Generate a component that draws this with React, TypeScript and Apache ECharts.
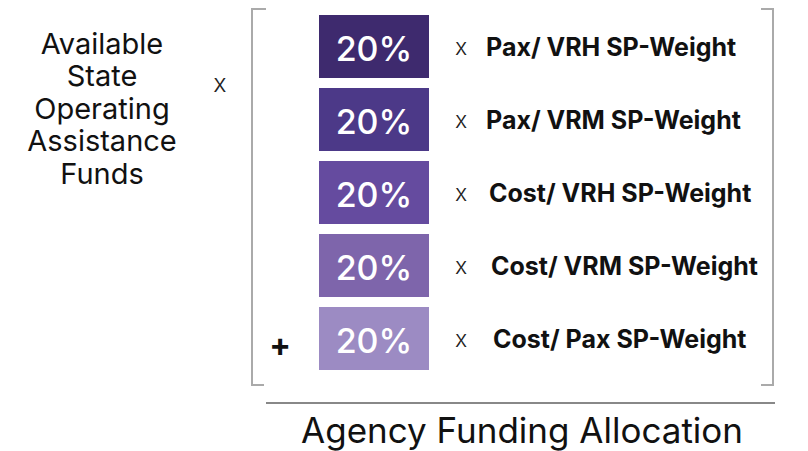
import React, { useEffect, useRef } from "react";
import * as echarts from "echarts";

const weights = [20, 20, 20, 20, 20];
const factors = [
  "Pax/ VRH SP-Weight",
  "Pax/ VRM SP-Weight",
  "Cost/ VRH SP-Weight",
  "Cost/ VRM SP-Weight",
  "Cost/ Pax SP-Weight",
];
const boxColors = ["#3e2a6e", "#4c3988", "#654b9f", "#7e65ab", "#9c8bc3"];
const fundLines = ["Available", "State", "Operating", "Assistance", "Funds"];
const title = "Agency Funding Allocation";
const FONT = "Inter, 'Liberation Sans', Arial, sans-serif";

export default function App() {
  const ref = useRef<HTMLDivElement>(null);
  useEffect(() => {
    if (!ref.current) return;
    const chart = echarts.init(ref.current, undefined, { renderer: "svg" });
    const xPad = [31, 31, 34, 36, 38];
    const rich: Record<string, any> = {};
    xPad.forEach((w, i) => {
      rich["x" + i] = { width: w, fontSize: 23, color: "#222", fontFamily: FONT, fontWeight: 300 };
    });
    rich.b = { fontSize: 25, fontWeight: "bold", color: "#111", fontFamily: FONT };
    const bracket = "#aaaaaa";
    chart.setOption({
      animation: false,
      grid: { left: 319, width: 110, top: 10, height: 365 },
      xAxis: { type: "value", min: 0, max: 20, show: false },
      yAxis: [
        { type: "category", data: factors, inverse: true, show: false },
        {
          type: "category",
          data: factors,
          inverse: true,
          position: "right",
          axisLine: { show: false },
          axisTick: { show: false },
          splitLine: { show: false },
          axisLabel: {
            margin: 26,
            formatter: (v: string, i: number) => `{x${i}|x}{b|${v}}`,
            rich,
          },
        },
      ],
      series: [
        {
          type: "bar",
          yAxisIndex: 0,
          barWidth: 63,
          data: weights.map((v, i) => ({ value: v, itemStyle: { color: boxColors[i] } })),
          label: {
            show: true,
            position: "inside",
            formatter: "{c}%",
            color: "#fff",
            fontSize: 34,
            fontWeight: 500,
            fontFamily: FONT,
            offset: [0, 2],
          },
        },
      ],
      graphic: [
        ...fundLines.map((t, i) => ({
          type: "text",
          x: 102,
          y: 43 + i * 32.5,
          style: { text: t, fontSize: 29, fontFamily: FONT, fill: "#111", textAlign: "center", textVerticalAlign: "middle" },
        })),
        {
          type: "text",
          x: 220,
          y: 83,
          style: { text: "x", fontSize: 25, fontWeight: 300, fontFamily: FONT, fill: "#222", textAlign: "center", textVerticalAlign: "middle" },
        },
        {
          type: "text",
          x: 280,
          y: 344,
          style: { text: "+", fontSize: 32, fontWeight: "bold", fontFamily: FONT, fill: "#111", textAlign: "center", textVerticalAlign: "middle" },
        },
        { type: "polyline", shape: { points: [[266, 9], [252, 9], [252, 385], [264, 385]] }, style: { stroke: bracket, lineWidth: 2, fill: "none" } },
        { type: "polyline", shape: { points: [[761, 9], [773, 9], [773, 385], [761, 385]] }, style: { stroke: bracket, lineWidth: 2, fill: "none" } },
        { type: "line", shape: { x1: 266, y1: 403, x2: 775, y2: 403 }, style: { stroke: "#888", lineWidth: 2 } },
        {
          type: "text",
          x: 522,
          y: 430,
          style: { text: title, fontSize: 35, fontFamily: FONT, fill: "#111", textAlign: "center", textVerticalAlign: "middle" },
        },
      ],
    });
    return () => chart.dispose();
  }, []);
  return <div ref={ref} style={{ position: "fixed", left: 0, top: 0, width: 808, height: 451, background: "#fff" }} />;
}
